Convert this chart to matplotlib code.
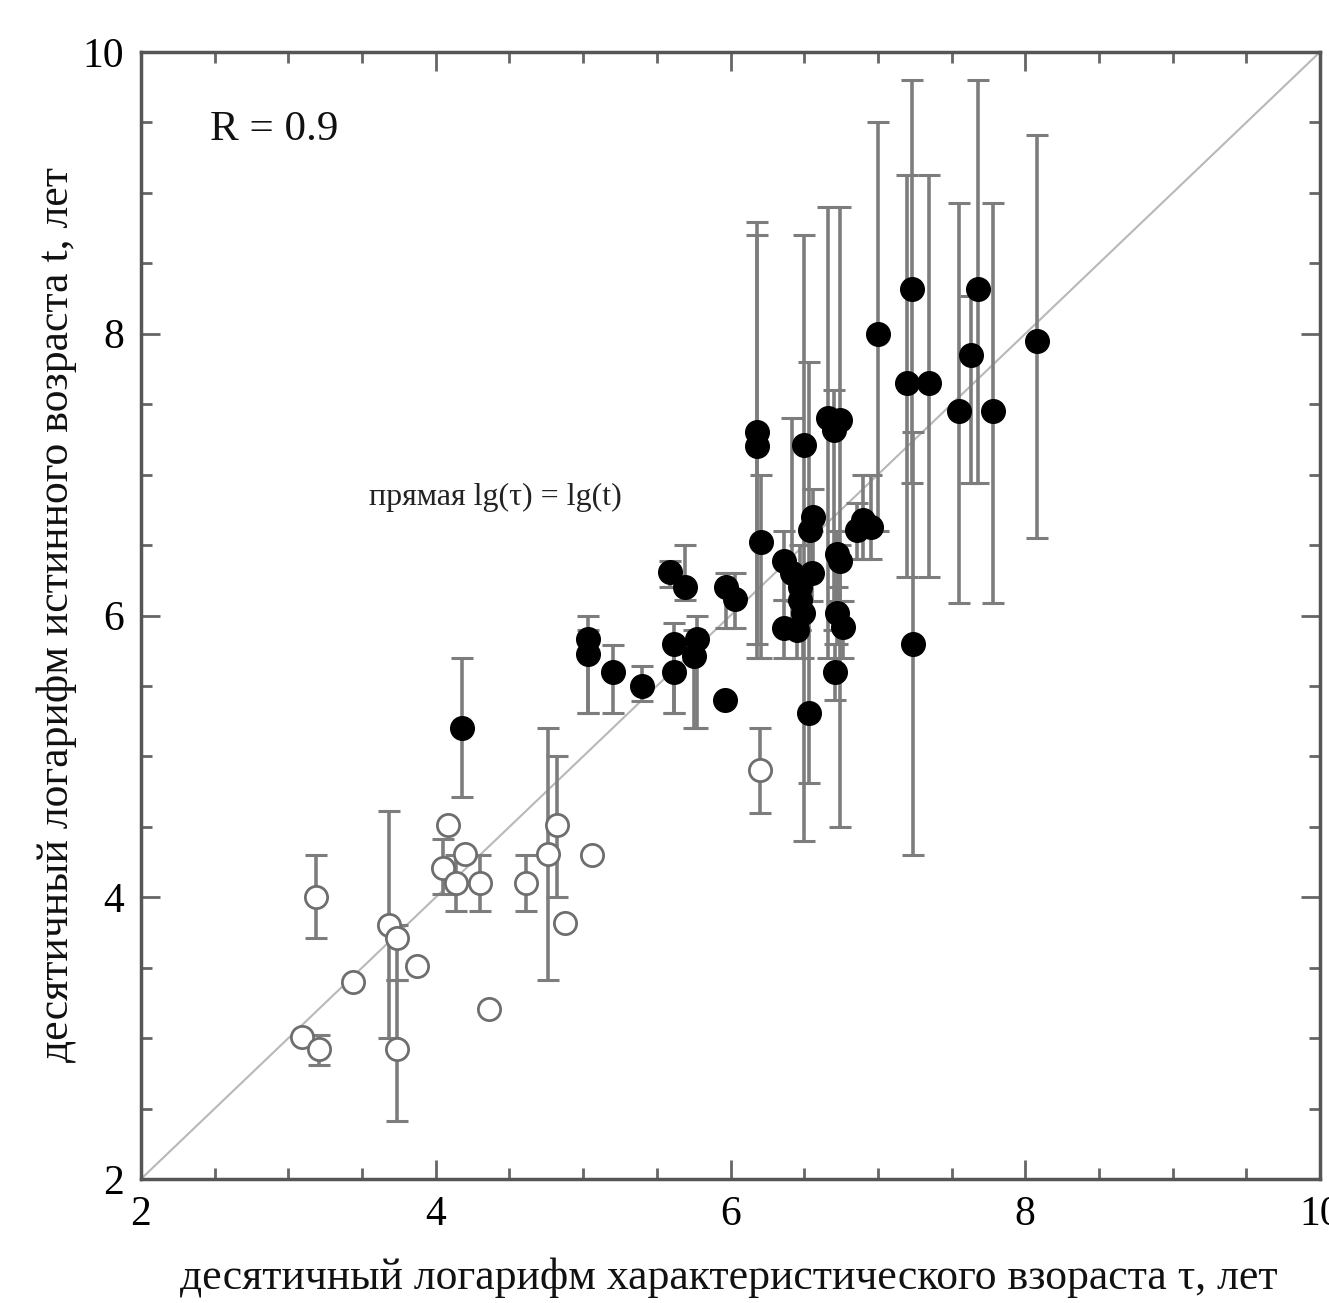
import numpy as np
import matplotlib
matplotlib.use("Agg")
import matplotlib.pyplot as plt
from matplotlib.ticker import MultipleLocator

# ---- data: open circles ----
open_x  = [3.09, 3.21, 3.19, 3.44, 3.68, 3.74, 3.74, 3.87, 4.05, 4.08, 4.20, 4.14, 4.30, 4.36, 4.61, 4.76, 4.82, 4.88, 5.06, 6.20]
open_y  = [3.01, 2.92, 4.00, 3.40, 3.80, 3.71, 2.92, 3.51, 4.21, 4.51, 4.31, 4.10, 4.10, 3.21, 4.10, 4.31, 4.51, 3.82, 4.30, 4.90]
open_lo = [np.nan, 2.81, 3.71, np.nan, 3.00, 3.41, 2.41, np.nan, 4.02, np.nan, np.nan, 3.90, 3.90, np.nan, 3.90, 3.41, 4.00, np.nan, np.nan, 4.60]
open_hi = [np.nan, 3.02, 4.30, np.nan, 4.61, 3.80, 3.41, np.nan, 4.41, np.nan, np.nan, 4.30, 4.30, np.nan, 4.30, 5.20, 5.00, np.nan, np.nan, 5.20]

# ---- data: filled circles ----
fill_x  = [4.18, 5.03, 5.03, 5.20, 5.40, 5.59, 5.69, 5.62, 5.62, 5.77, 5.75, 5.97, 6.03, 5.96,
           6.18, 6.18, 6.21, 6.36, 6.36, 6.42, 6.45, 6.47, 6.47, 6.49, 6.50, 6.55, 6.56, 6.54, 6.53,
           6.66, 6.74, 6.70, 6.72, 6.74, 6.72, 6.76, 6.71, 6.86, 6.90, 6.95,
           7.00, 7.20, 7.23, 7.24, 7.35, 7.55, 7.63, 7.68, 7.78, 8.08]
fill_y  = [5.20, 5.83, 5.73, 5.60, 5.50, 6.31, 6.20, 5.80, 5.60, 5.83, 5.71, 6.20, 6.12, 5.40,
           7.30, 7.20, 6.52, 6.39, 5.91, 6.30, 5.90, 6.20, 6.11, 6.02, 7.21, 6.30, 6.70, 6.61, 5.31,
           7.40, 7.39, 7.32, 6.44, 6.39, 6.02, 5.92, 5.60, 6.61, 6.68, 6.63,
           8.00, 7.65, 8.32, 5.80, 7.65, 7.45, 7.85, 8.32, 7.45, 7.95]
fill_lo = [4.71, 5.31, 5.31, 5.31, 5.39, 6.20, 6.11, 5.31, 5.31, 5.20, 5.20, 5.91, 5.91, np.nan,
           5.80, 5.70, 5.70, 6.11, 5.70, 5.90, 5.70, 5.90, 5.90, 5.70, 4.40, 6.10, 6.30, np.nan, 4.81,
           5.70, 4.50, 5.90, 6.10, 5.90, 5.80, 5.70, 5.40, 6.40, 6.40, 6.40,
           6.60, 6.27, 6.94, 4.30, 6.27, 6.09, 6.94, 6.94, 6.09, 6.55]
fill_hi = [5.70, 6.00, 5.90, 5.79, 5.64, 6.39, 6.50, 5.95, 5.80, 6.00, 5.90, 6.30, 6.30, np.nan,
           8.79, 8.70, 7.00, 6.60, 6.11, 7.40, 6.10, 6.50, 6.30, 6.30, 8.70, 6.60, 6.90, np.nan, 7.80,
           8.90, 8.90, 7.60, 6.60, 6.50, 6.20, 6.10, 5.80, 6.80, 7.00, 7.00,
           9.50, 9.13, 9.80, 7.30, 9.13, 8.93, 8.27, 9.80, 8.93, 9.41]

diag = [2, 10]
x_ticks = [2, 4, 6, 8, 10]
y_ticks = [2, 4, 6, 8, 10]

xlabel = "десятичный логарифм характеристического взораста τ, лет"
ylabel = "десятичный логарифм истинного возраста t, лет"
r_text = "R = 0.9"
line_text = "прямая lg(τ) = lg(t)"

plt.rcParams['font.family'] = ['Liberation Serif', 'DejaVu Serif']

W, H = 1329, 1303
fig = plt.figure(figsize=(W/100, H/100), dpi=100)
ax = fig.add_axes([141/W, 1-1179/H, (1320-141)/W, (1179-52)/H])

ax.plot(diag, diag, color='#b8b8b8', lw=1.5, zorder=1)

def yerr_of(y, lo, hi):
    y = np.array(y); lo = np.array(lo); hi = np.array(hi)
    return np.vstack([y - lo, hi - y])

ebc = '#7d7d7d'
ax.errorbar(fill_x, fill_y, yerr=yerr_of(fill_y, fill_lo, fill_hi), fmt='none',
            ecolor=ebc, elinewidth=2.6, capsize=8, capthick=2.2, zorder=2)
ax.errorbar(open_x, open_y, yerr=yerr_of(open_y, open_lo, open_hi), fmt='none',
            ecolor=ebc, elinewidth=2.6, capsize=8, capthick=2.2, zorder=2)

ax.plot(fill_x, fill_y, 'o', ms=17, mfc='black', mec='black', zorder=4)
ax.plot(open_x, open_y, 'o', ms=16, mfc='white', mec='#6e6e6e', mew=2.0, zorder=4)

ax.set_xlim(2, 10)
ax.set_ylim(2, 10)
ax.set_xticks(x_ticks)
ax.set_yticks(y_ticks)
ax.xaxis.set_minor_locator(MultipleLocator(0.5))
ax.yaxis.set_minor_locator(MultipleLocator(0.5))
ax.tick_params(which='both', direction='in', top=True, right=True, color='#666666', width=2)
ax.tick_params(which='major', length=14, labelsize=30, pad=12)
ax.tick_params(which='minor', length=8)
for s in ax.spines.values():
    s.set_color('#555555')
    s.set_linewidth(2.5)

ax.text(2.47, 9.45, r_text, fontsize=31, va='center', ha='left', color='#111111')
ax.text(3.55, 6.84, line_text, fontsize=23, va='center', ha='left', color='#222222')

fig.text(729/W, 1-1278/H, xlabel, fontsize=31.5, ha='center', va='center', color='#111111')
fig.text(57/W, 1-615/H, ylabel, fontsize=31.5, ha='center', va='center', rotation=90, color='#111111')

fig.savefig('out.png', dpi=100)
